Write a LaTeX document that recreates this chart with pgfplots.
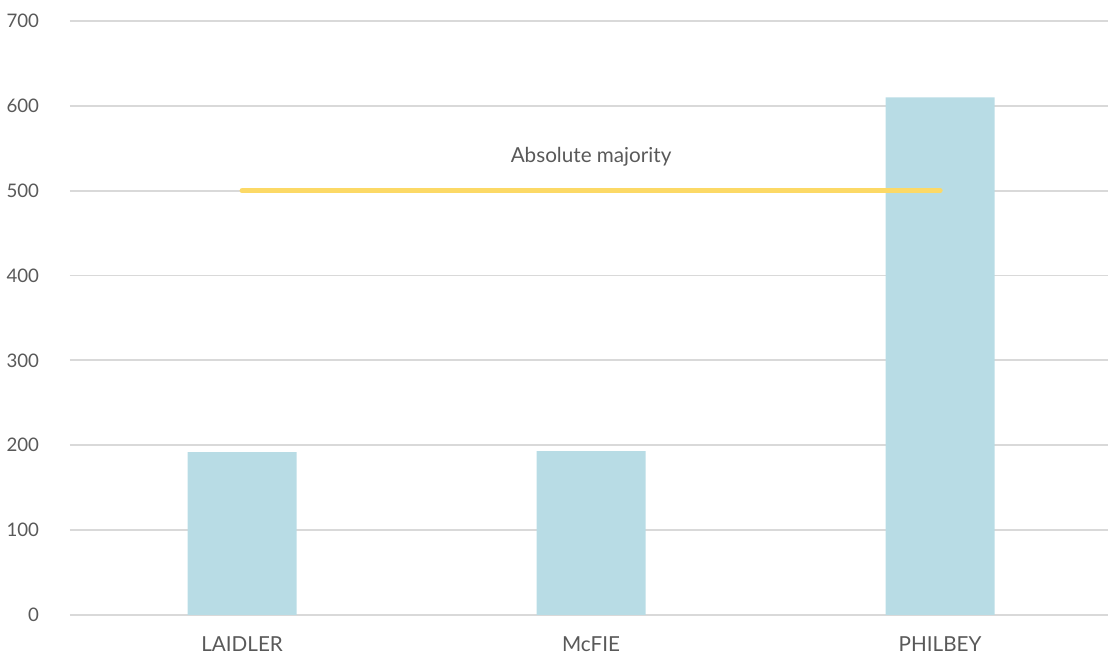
\documentclass[border=0pt]{standalone}
\usepackage{fontspec}
\setmainfont{Lato}
\usepackage{pgfplots}
\pgfplotsset{compat=1.18}
\definecolor{barblue}{HTML}{B8DCE5}
\definecolor{gold}{HTML}{FCD966}
\definecolor{gridgray}{HTML}{D9D9D9}
\definecolor{txt}{HTML}{595959}
\begin{document}
\begin{tikzpicture}
\begin{axis}[
  name=ax,
  scale only axis,
  width=778.5pt, height=445.5pt,
  xmin=-0.493, xmax=2.481,
  ymin=0, ymax=700,
  ytick={0,100,...,700},
  xtick={0,1,2},
  xticklabels={LAIDLER, McFIE, PHILBEY},
  axis line style={draw=none},
  major tick style={draw=none},
  ymajorgrids,
  grid style={gridgray, line width=1.4pt},
  /pgf/number format/assume math mode=true,
  yticklabel style={font=\fontsize{14}{16}\selectfont, text=txt, anchor=east, inner sep=0pt, xshift=-23pt},
  xticklabel style={font=\fontsize{15.5}{18}\selectfont, text=txt, anchor=base, inner sep=0pt, yshift=-27.5pt},
  clip=false,
]
\addplot[ybar, bar width=81.75pt, fill=barblue, draw=none] coordinates {(0,192) (1,193) (2,610)};
\addplot[gold, line width=3.75pt, line cap=round] coordinates {(0,500) (2,500)};
\node[text=txt, font=\fontsize{15.5}{18}\selectfont] at (axis cs:1,540) {Absolute majority};
\end{axis}
\pgfresetboundingbox
\path[use as bounding box] ([xshift=-52.5pt, yshift=-35.25pt]ax.south west) rectangle ([yshift=15.75pt]ax.north east);
\end{tikzpicture}
\end{document}
